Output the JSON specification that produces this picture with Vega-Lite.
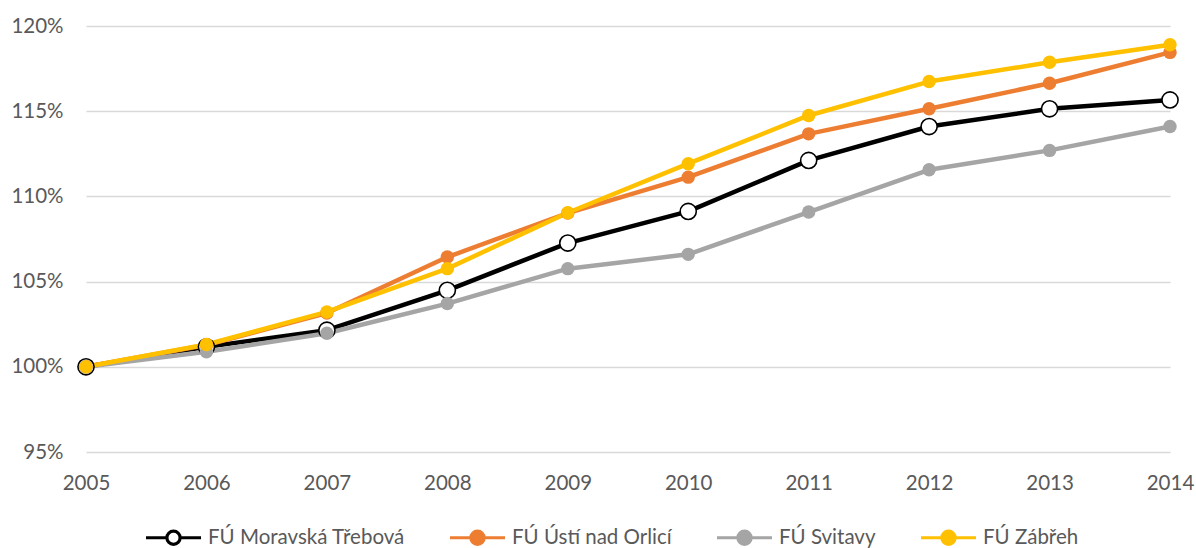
{
  "$schema": "https://vega.github.io/schema/vega-lite/v6.json",
  "width": 1084,
  "height": 426,
  "autosize": {"type": "none"},
  "padding": {"left": 86, "top": 26, "right": 26, "bottom": 96},
  "background": "white",
  "config": {
    "view": {"stroke": null},
    "font": "Lato",
    "axis": {
      "domain": false,
      "ticks": false,
      "tickSize": 0,
      "labelFont": "Lato",
      "labelFontSize": 20.5,
      "labelColor": "#595959",
      "gridColor": "#D9D9D9",
      "gridWidth": 1.3,
      "title": null
    }
  },
  "data": {
    "values": [
      {"year": 2005, "series": "FÚ Moravská Třebová", "value": 1.0},
      {"year": 2006, "series": "FÚ Moravská Třebová", "value": 1.0117},
      {"year": 2007, "series": "FÚ Moravská Třebová", "value": 1.0215},
      {"year": 2008, "series": "FÚ Moravská Třebová", "value": 1.0449},
      {"year": 2009, "series": "FÚ Moravská Třebová", "value": 1.0726},
      {"year": 2010, "series": "FÚ Moravská Třebová", "value": 1.0912},
      {"year": 2011, "series": "FÚ Moravská Třebová", "value": 1.1211},
      {"year": 2012, "series": "FÚ Moravská Třebová", "value": 1.141},
      {"year": 2013, "series": "FÚ Moravská Třebová", "value": 1.1514},
      {"year": 2014, "series": "FÚ Moravská Třebová", "value": 1.1566},
      {"year": 2005, "series": "FÚ Ústí nad Orlicí", "value": 1.0},
      {"year": 2006, "series": "FÚ Ústí nad Orlicí", "value": 1.0128},
      {"year": 2007, "series": "FÚ Ústí nad Orlicí", "value": 1.0316},
      {"year": 2008, "series": "FÚ Ústí nad Orlicí", "value": 1.0644},
      {"year": 2009, "series": "FÚ Ústí nad Orlicí", "value": 1.0902},
      {"year": 2010, "series": "FÚ Ústí nad Orlicí", "value": 1.1113},
      {"year": 2011, "series": "FÚ Ústí nad Orlicí", "value": 1.1367},
      {"year": 2012, "series": "FÚ Ústí nad Orlicí", "value": 1.1514},
      {"year": 2013, "series": "FÚ Ústí nad Orlicí", "value": 1.1664},
      {"year": 2014, "series": "FÚ Ústí nad Orlicí", "value": 1.1845},
      {"year": 2005, "series": "FÚ Svitavy", "value": 1.0},
      {"year": 2006, "series": "FÚ Svitavy", "value": 1.0088},
      {"year": 2007, "series": "FÚ Svitavy", "value": 1.0197},
      {"year": 2008, "series": "FÚ Svitavy", "value": 1.0371},
      {"year": 2009, "series": "FÚ Svitavy", "value": 1.0576},
      {"year": 2010, "series": "FÚ Svitavy", "value": 1.066},
      {"year": 2011, "series": "FÚ Svitavy", "value": 1.0908},
      {"year": 2012, "series": "FÚ Svitavy", "value": 1.1156},
      {"year": 2013, "series": "FÚ Svitavy", "value": 1.127},
      {"year": 2014, "series": "FÚ Svitavy", "value": 1.141},
      {"year": 2005, "series": "FÚ Zábřeh", "value": 1.0},
      {"year": 2006, "series": "FÚ Zábřeh", "value": 1.0131},
      {"year": 2007, "series": "FÚ Zábřeh", "value": 1.0322},
      {"year": 2008, "series": "FÚ Zábřeh", "value": 1.0576},
      {"year": 2009, "series": "FÚ Zábřeh", "value": 1.0904},
      {"year": 2010, "series": "FÚ Zábřeh", "value": 1.1192},
      {"year": 2011, "series": "FÚ Zábřeh", "value": 1.1475},
      {"year": 2012, "series": "FÚ Zábřeh", "value": 1.1674},
      {"year": 2013, "series": "FÚ Zábřeh", "value": 1.1787},
      {"year": 2014, "series": "FÚ Zábřeh", "value": 1.189}
    ]
  },
  "encoding": {
    "x": {
      "field": "year",
      "type": "quantitative",
      "scale": {"domain": [2005, 2014], "nice": false, "zero": false},
      "axis": {"values": [2005, 2006, 2007, 2008, 2009, 2010, 2011, 2012, 2013, 2014], "format": "d", "grid": false, "labelPadding": 21, "labelFlush": false}
    },
    "y": {
      "field": "value",
      "type": "quantitative",
      "scale": {"domain": [0.95, 1.2], "nice": false, "zero": false},
      "axis": {"values": [0.95, 1.0, 1.05, 1.1, 1.15, 1.2], "format": ".0%", "labelPadding": 23}
    }
  },
  "layer": [
    {
      "mark": {"type": "line", "strokeWidth": 4.5, "strokeCap": "round", "strokeJoin": "round"},
      "encoding": {
        "color": {
          "field": "series",
          "type": "nominal",
          "sort": ["FÚ Moravská Třebová", "FÚ Ústí nad Orlicí", "FÚ Svitavy", "FÚ Zábřeh"],
          "scale": {
            "domain": ["FÚ Moravská Třebová", "FÚ Ústí nad Orlicí", "FÚ Svitavy", "FÚ Zábřeh"],
            "range": ["#000000", "#ED7D31", "#A5A5A5", "#FFC000"]
          },
          "legend": {
            "orient": "none",
            "legendX": 58,
            "legendY": 482,
            "direction": "horizontal",
            "columns": 4,
            "title": null,
            "padding": 0,
            "columnPadding": 38,
            "labelOffset": 5,
            "labelLimit": 0,
            "labelFont": "Lato",
            "labelFontSize": 20.5,
            "labelColor": "#595959",
            "symbolType": "M-1,0H-0.24A0.24,0.24 0 1,1 0.24,0A0.24,0.24 0 1,1 -0.24,0M0.24,0H1",
            "symbolSize": 3025,
            "symbolStrokeWidth": 3.2,
            "symbolOpacity": 1
          }
        },
        "order": {"field": "year", "type": "quantitative"}
      }
    },
    {
      "transform": [{"filter": "datum.series === 'FÚ Moravská Třebová'"}],
      "mark": {"type": "point", "shape": "circle", "filled": true, "fill": "#ffffff", "stroke": "#000000", "strokeWidth": 1.6, "size": 260, "opacity": 1}
    },
    {
      "transform": [{"filter": "datum.series !== 'FÚ Moravská Třebová'"}],
      "mark": {"type": "point", "shape": "circle", "filled": true, "size": 180, "opacity": 1},
      "encoding": {
        "fill": {
          "field": "series",
          "type": "nominal",
          "sort": ["FÚ Moravská Třebová", "FÚ Ústí nad Orlicí", "FÚ Svitavy", "FÚ Zábřeh"],
          "scale": {
            "domain": ["FÚ Moravská Třebová", "FÚ Ústí nad Orlicí", "FÚ Svitavy", "FÚ Zábřeh"],
            "range": ["#ffffff", "#ED7D31", "#A5A5A5", "#FFC000"]
          },
          "legend": {
            "orient": "none",
            "legendX": 58,
            "legendY": 482,
            "direction": "horizontal",
            "columns": 4,
            "title": null,
            "padding": 0,
            "columnPadding": 38,
            "labelOffset": 5,
            "labelLimit": 0,
            "labelFont": "Lato",
            "labelFontSize": 20.5,
            "labelColor": "#595959",
            "symbolType": "M-1,0H-0.24A0.24,0.24 0 1,1 0.24,0A0.24,0.24 0 1,1 -0.24,0M0.24,0H1",
            "symbolSize": 3025,
            "symbolStrokeWidth": 3.2,
            "symbolOpacity": 1
          }
        }
      }
    }
  ]
}
